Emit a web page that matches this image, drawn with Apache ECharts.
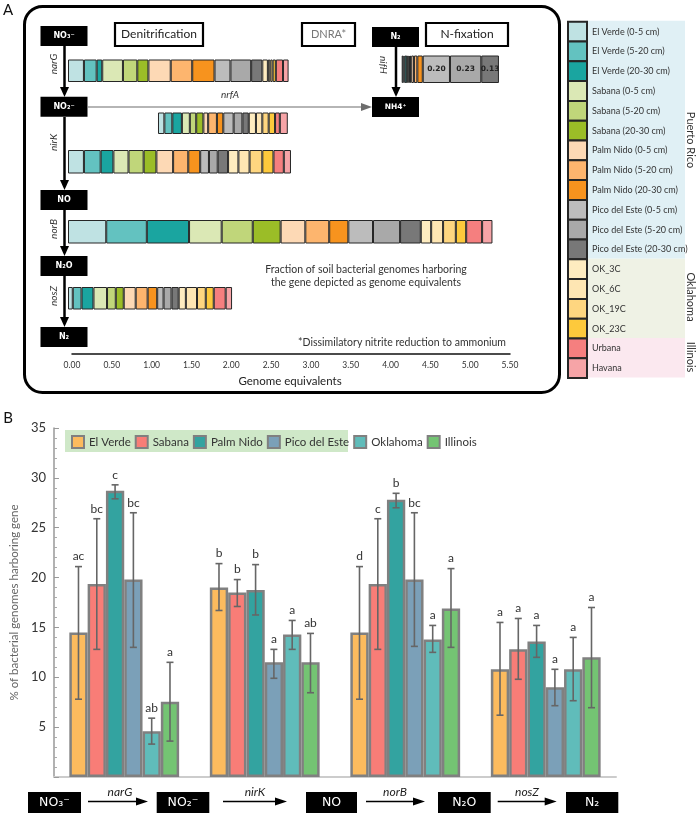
<!DOCTYPE html>
<html><head><meta charset="utf-8">
<script src="https://cdn.jsdelivr.net/npm/echarts@6/dist/echarts.min.js"></script>
<style>html,body{margin:0;padding:0;background:#fff}#c{width:696px;height:813px}</style>
</head><body><div id="c"></div>
<script>
// ---------- Panel A data (genome equivalents) ----------
const categories = ['El Verde (0-5 cm)','El Verde (5-20 cm)','El Verde (20-30 cm)','Sabana (0-5 cm)','Sabana (5-20 cm)','Sabana (20-30 cm)','Palm Nido (0-5 cm)','Palm Nido (5-20 cm)','Palm Nido (20-30 cm)','Pico del Este (0-5 cm)','Pico del Este (5-20 cm)','Pico del Este (20-30 cm)','OK_3C','OK_6C','OK_19C','OK_23C','Urbana','Havana'];
const catColors = ['#bfe2e3','#63c2c0','#1aa5a0','#dbe8b5','#c0d67a','#9bbd27','#fdd9b5','#fdb56e','#f7931e','#bcbcbc','#a9a9a9','#787878','#feecc0','#fee6b3','#fed680','#fdc93c','#f57f7f','#f6a4a7'];
const narG = [0.20,0.16,0.07,0.26,0.18,0.14,0.28,0.27,0.28,0.20,0.26,0.14,0.07,0.03,0.03,0.04,0.09,0.07];
const nrfA = [0.08,0.10,0.12,0.10,0.08,0.09,0.06,0.11,0.08,0.13,0.11,0.08,0.09,0.08,0.08,0.08,0.06,0.10];
const nrfAOffset = 1.13;
const nirK = [0.20,0.21,0.16,0.19,0.19,0.16,0.21,0.19,0.15,0.11,0.11,0.13,0.13,0.14,0.16,0.14,0.13,0.09];
const norB = [0.48,0.51,0.53,0.41,0.39,0.35,0.31,0.30,0.24,0.31,0.34,0.26,0.13,0.15,0.16,0.13,0.20,0.13];
const nosZ = [0.06,0.11,0.15,0.17,0.11,0.10,0.15,0.15,0.12,0.08,0.10,0.09,0.09,0.14,0.11,0.10,0.15,0.08];
const nifH = [0.012,0.010,0.018,0.012,0.008,0.010,0.020,0.025,0.040,0.20,0.23,0.13,0,0,0,0,0,0];
const nifHLabelled = [9,10,11];
const geAxisMax = 5.5, geAxisInterval = 0.5;

// ---------- Panel B data (% of bacterial genomes harboring gene) ----------
const genes = ['narG','nirK','norB','nosZ'];
const sites = ['El Verde','Sabana','Palm Nido','Pico del Este','Oklahoma','Illinois'];
const siteColors = ['#fcbb5e','#f87d77','#33a3a0','#7ba0b8','#60bcba','#74c473'];
const elVerde     = [14.5, 19.0, 14.5, 10.8];
const sabana      = [19.35,18.5, 19.35,12.8];
const palmNido    = [28.7, 18.75,27.8, 13.6];
const picoDelEste = [19.8, 11.5, 19.8,  9.0];
const oklahoma    = [4.6,  14.3, 13.8, 10.8];
const illinois    = [7.55, 11.5, 16.9, 12.0];
const errLow  = [[7.8,16.7,7.8,6.2],[12.8,17.1,12.8,9.8],[27.9,16.25,27.0,12.0],[13.0,9.9,13.1,7.15],[3.3,12.8,12.5,7.65],[3.6,8.45,13.0,6.95]];
const errHigh = [[21.1,21.4,21.1,15.5],[25.9,19.8,25.9,15.9],[29.3,21.3,28.45,15.2],[26.5,12.8,26.5,10.8],[5.9,15.7,15.2,14.0],[11.5,14.4,20.9,17.0]];
const letters = [['ac','b','d','a'],['bc','b','c','a'],['c','b','b','a'],['bc','a','bc','a'],['ab','a','a','a'],['a','ab','a','a']];
const pctTicks = {min:0, max:35, interval:5};

const siteValues = [elVerde, sabana, palmNido, picoDelEste, oklahoma, illinois];
const FONT = 'Lato, "Open Sans", sans-serif';

// ---------- layout ----------
const rows = [
  {data:narG, grid:{left:68, top:59.5, width:438, height:22.5}, max:geAxisMax},
  {data:nrfA, grid:{left:68, top:112.5, width:438, height:21.5}, max:geAxisMax, offset:nrfAOffset},
  {data:nirK, grid:{left:68, top:150, width:438, height:23.5}, max:geAxisMax},
  {data:norB, grid:{left:68, top:220, width:438, height:23.5}, max:geAxisMax},
  {data:nosZ, grid:{left:68, top:287, width:438, height:22.5}, max:geAxisMax},
  {data:nifH, grid:{left:401.7, top:55.5, width:102, height:27.5}, max:0.75, labelled:nifHLabelled}
];

const grids = [], xAxes = [], yAxes = [], series = [];
rows.forEach((r, gi) => {
  grids.push(r.grid);
  xAxes.push({gridIndex:gi, type:'value', min:0, max:r.max, show:false});
  yAxes.push({gridIndex:gi, type:'category', data:['g'], show:false});
  if (r.offset) {
    series.push({type:'bar', name:'offset', xAxisIndex:gi, yAxisIndex:gi, stack:'s'+gi, barWidth:'100%',
      itemStyle:{color:'transparent', borderWidth:0}, silent:true, data:[r.offset]});
  }
  categories.forEach((c, ci) => {
    const v = r.data[ci];
    const item = v > 0 ? {value:v} : {value:'-'};
    if (r.labelled && r.labelled.includes(ci)) {
      item.label = {show:true, position:'inside', formatter:p => Number(p.value).toFixed(2),
        fontSize:7.5, fontWeight:'bold', color:'#222', fontFamily:'"DejaVu Sans", sans-serif'};
    }
    series.push({type:'bar', name:c, xAxisIndex:gi, yAxisIndex:gi, stack:'s'+gi, barWidth:'100%',
      itemStyle:{color:catColors[ci], borderColor:'#262626', borderWidth:1}, data:[item]});
  });
});
// genome-equivalents axis grid
const axG = grids.length;
grids.push({left:72, top:300, width:438, height:54});
xAxes.push({gridIndex:axG, type:'value', min:0, max:geAxisMax, interval:geAxisInterval,
  axisLine:{show:true, lineStyle:{color:'#111', width:1.5}}, axisTick:{show:false}, splitLine:{show:false},
  axisLabel:{formatter:v => v.toFixed(2), fontSize:8.5, color:'#333', margin:7, fontFamily:FONT}});
yAxes.push({gridIndex:axG, type:'value', show:false, min:0, max:1});

// Panel B grid
const bG = grids.length;
const barW = 18.3;
grids.push({left:47, top:428, width:569, height:349});
xAxes.push({gridIndex:bG, type:'category', data:genes, axisLine:{lineStyle:{color:'#cccccc', width:2}},
  axisTick:{show:false}, axisLabel:{show:false}});
yAxes.push({gridIndex:bG, type:'value', min:pctTicks.min, max:pctTicks.max, interval:pctTicks.interval,
  name:'% of bacterial genomes harboring gene', nameLocation:'middle', nameGap:33,
  nameTextStyle:{fontSize:11.5, color:'#666', fontFamily:FONT},
  axisLine:{show:true, lineStyle:{color:'#999', width:1.5}},
  axisTick:{show:true, inside:true, length:5, lineStyle:{color:'#999'}},
  minorTick:{show:true, splitNumber:5, length:3, lineStyle:{color:'#aaa'}},
  splitLine:{show:false},
  axisLabel:{formatter:v => v === 0 ? '' : String(v), fontSize:13, color:'#333', margin:8, fontFamily:FONT}});

sites.forEach((s, si) => {
  series.push({type:'bar', name:s, xAxisIndex:bG, yAxisIndex:bG, barWidth:barW, barGap:'0%',
    itemStyle:{color:siteColors[si], borderColor:'#808080', borderWidth:2.5}, data:siteValues[si]});
});
const errItems = [];
sites.forEach((s, si) => genes.forEach((g, gi) => {
  errItems.push({value:[gi, errLow[si][gi], errHigh[si][gi], si], letter:letters[si][gi]});
}));
series.push({type:'custom', name:'err', xAxisIndex:bG, yAxisIndex:bG, z:5, silent:true,
  data:errItems.map(e => e.value),
  renderItem(params, api){
    const gi = api.value(0), lo = api.value(1), hi = api.value(2), si = api.value(3);
    const ch = api.coord([gi, hi]), cl = api.coord([gi, lo]);
    const x = ch[0] + (si - 2.5) * barW;
    const st = {stroke:'#666', lineWidth:1.6};
    return {type:'group', children:[
      {type:'line', shape:{x1:x, y1:ch[1], x2:x, y2:cl[1]}, style:st},
      {type:'line', shape:{x1:x-3.5, y1:ch[1], x2:x+3.5, y2:ch[1]}, style:st},
      {type:'line', shape:{x1:x-3.5, y1:cl[1], x2:x+3.5, y2:cl[1]}, style:st},
      {type:'text', x:x, y:ch[1]-4, style:{text:errItems[params.dataIndex].letter, align:'center',
        verticalAlign:'bottom', fontSize:12, fill:'#333', fontFamily:FONT}}
    ]};
  }
});

// ---------- graphics ----------
const G = [];
function txt(t, x, y, o){ o = o || {}; G.push({type:'text', x:x, y:y, rotation:o.rot||0, z:o.z||10,
  style:{text:t, align:o.align||'center', verticalAlign:'middle', fontSize:o.size||11, fontStyle:o.italic?'italic':'normal',
  fontWeight:o.bold?'bold':'normal', fill:o.color||'#222', fontFamily:o.font||FONT}}); }
function box(x, y, w, h, t, size, bold){ G.push({type:'rect', z:8, shape:{x:x, y:y, width:w, height:h}, style:{fill:'#000'}});
  txt(t, x+w/2, y+h/2, {color:'#fff', size:size, bold:bold, z:9, font:'"DejaVu Sans", sans-serif'}); }
function arrowV(x, y1, y2, c, lw){ G.push({type:'line', z:7, shape:{x1:x, y1:y1, x2:x, y2:y2-7}, style:{stroke:c, lineWidth:lw}});
  G.push({type:'polygon', z:7, shape:{points:[[x-4.5,y2-10],[x+4.5,y2-10],[x,y2]]}, style:{fill:c}}); }
function arrowH(x1, x2, y, c, lw, hl, hh){ G.push({type:'line', z:7, shape:{x1:x1, y1:y, x2:x2-hl+2, y2:y}, style:{stroke:c, lineWidth:lw}});
  G.push({type:'polygon', z:7, shape:{points:[[x2-hl,y-hh/2],[x2-hl,y+hh/2],[x2,y]]}, style:{fill:c}}); }
function frame(x, y, w, h, lw, r){ G.push({type:'rect', z:6, shape:{x:x, y:y, width:w, height:h, r:r||0}, style:{fill:'#fff', stroke:'#000', lineWidth:lw}}); }

// Panel A
txt('A', 8, 10, {size:15, color:'#111'});
G.push({type:'rect', z:1, shape:{x:24.5, y:6.5, width:535, height:386, r:18}, style:{fill:'none', stroke:'#000', lineWidth:3}});
arrowV(64.5, 46, 97, '#000', 2.5);
arrowV(64.5, 117, 190, '#000', 2.5);
arrowV(64.5, 210, 256, '#000', 2.5);
arrowV(64.5, 276, 327, '#000', 2.5);
arrowV(396, 47, 97, '#000', 2.5);
arrowH(88, 372, 107, '#6d6d6d', 1.2, 11, 8);
box(40.5, 26, 47, 20, 'NO₃⁻', 8, true);
box(40.5, 96.7, 47, 20, 'NO₂⁻', 8, true);
box(40.5, 190, 47, 20, 'NO', 8, true);
box(40.5, 256, 47, 20, 'N₂O', 8, true);
box(40.5, 327, 47, 20, 'N₂', 8, true);
box(372, 27, 47, 20, 'N₂', 8, true);
box(372, 97, 47, 20, 'NH4⁺', 7.5, true);
txt('narG', 53.5, 64, {rot:Math.PI/2, italic:true, size:10, color:'#333'});
txt('nirK', 53.5, 142.5, {rot:Math.PI/2, italic:true, size:10, color:'#333'});
txt('norB', 53.5, 229, {rot:Math.PI/2, italic:true, size:10, color:'#333'});
txt('nosZ', 53.5, 296, {rot:Math.PI/2, italic:true, size:10, color:'#333'});
txt('nifH', 383, 65, {rot:-Math.PI/2, italic:true, size:10, color:'#333'});
txt('nrfA', 230, 95, {italic:true, size:10, color:'#333'});
frame(115, 23, 88, 23, 2.2); txt('Denitrification', 159, 34.5, {size:12, color:'#222'});
frame(302, 23, 53, 23, 2.2); txt('DNRA*', 328.5, 34.5, {size:11, color:'#777'});
frame(426, 23, 82, 23, 2.2); txt('N-fixation', 467, 34.5, {size:12, color:'#222'});
txt('Fraction of soil bacterial genomes harboring', 366, 270, {size:10.5, color:'#333'});
txt('the gene depicted as genome equivalents', 366, 283, {size:10.5, color:'#333'});
txt('*Dissimilatory nitrite reduction to ammonium', 506, 343, {size:10.5, color:'#333', align:'right'});
txt('Genome equivalents', 290, 381, {size:11.5, color:'#222'});
// legend region backgrounds
G.push({type:'rect', z:0, shape:{x:586, y:20.7, width:99, height:238}, style:{fill:'#e0f0f5'}});
G.push({type:'rect', z:0, shape:{x:586, y:258.7, width:99, height:79.2}, style:{fill:'#eff2e5'}});
G.push({type:'rect', z:0, shape:{x:586, y:337.9, width:99, height:39.6}, style:{fill:'#fbe8ef'}});
txt('Puerto Rico', 691, 140, {rot:-Math.PI/2, size:11, color:'#333'});
txt('Oklahoma', 691, 297, {rot:-Math.PI/2, size:11, color:'#333'});
txt('Illinois', 691, 357, {rot:-Math.PI/2, size:11, color:'#333'});

// Panel B
txt('B', 8, 418, {size:15, color:'#111'});
G.push({type:'rect', z:0, shape:{x:65, y:430, width:283, height:22}, style:{fill:'#cfe8c8'}});
const bY = 792, bH = 21;
box(28, bY, 53, bH, 'NO₃⁻', 12.5);
box(156.7, bY, 52.6, bH, 'NO₂⁻', 12.5);
box(306, bY, 51, bH, 'NO', 12.5);
box(438, bY, 52.7, bH, 'N₂O', 12.5);
box(566, bY, 52.3, bH, 'N₂', 12.5);
arrowH(88, 148, 801.5, '#000', 1.3, 12, 8);
arrowH(223, 287, 801.5, '#000', 1.3, 12, 8);
arrowH(366, 425, 801.5, '#000', 1.3, 12, 8);
arrowH(497.7, 556.7, 801.5, '#000', 1.3, 12, 8);
txt('narG', 120, 792, {italic:true, size:12, color:'#222'});
txt('nirK', 255, 792, {italic:true, size:12, color:'#222'});
txt('norB', 395, 792, {italic:true, size:12, color:'#222'});
txt('nosZ', 527, 792, {italic:true, size:12, color:'#222'});

const option = {
  animation:false,
  backgroundColor:'#fff',
  grid:grids, xAxis:xAxes, yAxis:yAxes, series:series,
  legend:[
    {orient:'vertical', left:567, top:20.7, itemWidth:19, itemHeight:19.8, itemGap:-2, padding:0, icon:'rect',
     selectedMode:false, data:categories, z:5,
     textStyle:{fontSize:9, color:'#333', fontFamily:FONT}},
    {orient:'horizontal', left:71, top:435, itemWidth:12, itemHeight:12, itemGap:4, padding:0, icon:'rect',
     selectedMode:false, data:sites, z:5,
     textStyle:{fontSize:11.5, color:'#333', fontFamily:FONT}}
  ],
  graphic:G
};
const chart = echarts.init(document.getElementById('c'), null, {renderer:'canvas'});
chart.setOption(option);
</script>
</body></html>
